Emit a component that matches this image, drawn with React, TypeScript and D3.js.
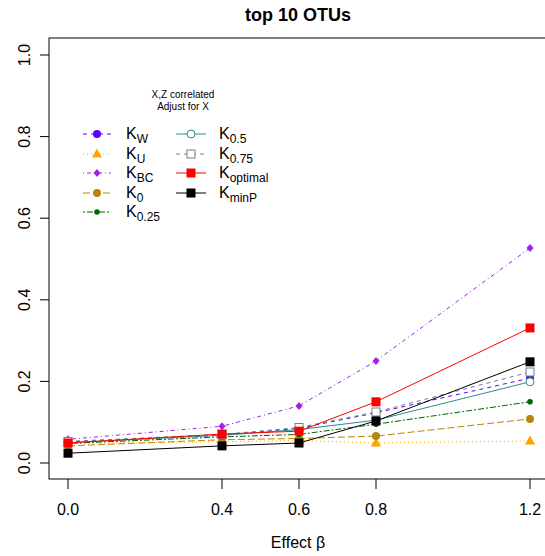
import React from "react";
import * as d3 from "d3";

const xs = [0, 0.4, 0.6, 0.8, 1.2];
const xTicks = [0, 0.4, 0.6, 0.8, 1.2];
const yTicks = [0, 0.2, 0.4, 0.6, 0.8, 1.0];

const kW = [0.052, 0.068, 0.085, 0.123, 0.208];
const kU = [0.048, 0.052, 0.055, 0.049, 0.054];
const kBC = [0.058, 0.090, 0.140, 0.250, 0.527];
const k0 = [0.042, 0.057, 0.060, 0.066, 0.108];
const k025 = [0.048, 0.064, 0.070, 0.095, 0.150];
const k05 = [0.050, 0.068, 0.082, 0.105, 0.199];
const k075 = [0.053, 0.070, 0.087, 0.125, 0.223];
const kOpt = [0.049, 0.071, 0.078, 0.150, 0.331];
const kMinP = [0.024, 0.042, 0.049, 0.103, 0.248];

type Series = { base: string; sub: string; values: number[]; color: string; dash: string; pch: string };

const series: Series[] = [
  { base: "K", sub: "W", values: kW, color: "#5B00FF", dash: "4,4", pch: "circle" },
  { base: "K", sub: "U", values: kU, color: "#FFA500", dash: "1,3", pch: "triangle" },
  { base: "K", sub: "BC", values: kBC, color: "#A020F0", dash: "1,3,4,3", pch: "diamond" },
  { base: "K", sub: "0", values: k0, color: "#B8860B", dash: "7,3", pch: "circle" },
  { base: "K", sub: "0.25", values: k025, color: "#006400", dash: "2,2,6,2", pch: "dot" },
  { base: "K", sub: "0.5", values: k05, color: "#2E8B8B", dash: "", pch: "opencircle" },
  { base: "K", sub: "0.75", values: k075, color: "#708090", dash: "4,4", pch: "opensquare" },
  { base: "K", sub: "optimal", values: kOpt, color: "#FF0000", dash: "", pch: "square" },
  { base: "K", sub: "minP", values: kMinP, color: "#000000", dash: "", pch: "square" },
];

const W = 545;
const H = 556;
const box = { left: 49, top: 38, right: 547, bottom: 479 };
const x = d3.scaleLinear().domain([0, 1.2]).range([68, 530]);
const y = d3.scaleLinear().domain([0, 1]).range([463, 55]);
const font = "'Liberation Sans', Arial, Helvetica, sans-serif";

function Marker({ pch, color, cx, cy }: { pch: string; color: string; cx: number; cy: number }) {
  switch (pch) {
    case "circle":
      return <circle cx={cx} cy={cy} r={4} fill={color} />;
    case "dot":
      return <circle cx={cx} cy={cy} r={2.8} fill={color} />;
    case "opencircle":
      return <circle cx={cx} cy={cy} r={4} fill="white" stroke={color} strokeWidth={1} />;
    case "opensquare":
      return <rect x={cx - 4} y={cy - 4} width={8} height={8} fill="white" stroke={color} strokeWidth={1} />;
    case "square":
      return <rect x={cx - 4.5} y={cy - 4.5} width={9} height={9} fill={color} />;
    case "triangle":
      return <path d={`M${cx},${cy - 5.5}L${cx + 5.2},${cy + 3.5}L${cx - 5.2},${cy + 3.5}Z`} fill={color} />;
    case "diamond":
      return <path d={`M${cx},${cy - 4}L${cx + 3.5},${cy}L${cx},${cy + 4}L${cx - 3.5},${cy}Z`} fill={color} />;
    default:
      return null;
  }
}

export default function App() {
  const line = d3
    .line<number>()
    .x((_, i) => x(xs[i]))
    .y((d) => y(d));

  const legendRows = [134, 154, 173, 193, 212];
  const legendCols = [
    { lineX0: 83, lineX1: 111, mx: 97, tx: 126 },
    { lineX0: 176, lineX1: 206, mx: 191, tx: 219 },
  ];

  return (
    <svg
      width={W}
      height={H}
      style={{ position: "absolute", left: 0, top: 0, background: "white" }}
      fontFamily={font}
    >
      <rect x={0} y={0} width={W} height={H} fill="white" />
      <text x={298} y={21} textAnchor="middle" fontWeight="bold" fontSize={18}>
        top 10 OTUs
      </text>

      {series.map((s, i) => (
        <g key={i}>
          <path
            d={line(s.values) || ""}
            fill="none"
            stroke={s.color}
            strokeWidth={1}
            strokeDasharray={s.dash || undefined}
          />
          {s.values.map((v, j) => (
            <Marker key={j} pch={s.pch} color={s.color} cx={x(xs[j])} cy={y(v)} />
          ))}
        </g>
      ))}

      <rect
        x={box.left}
        y={box.top}
        width={box.right - box.left}
        height={box.bottom - box.top}
        fill="none"
        stroke="black"
        strokeWidth={1}
      />

      {/* y axis */}
      {yTicks.map((t) => (
        <g key={t}>
          <line x1={40} x2={box.left} y1={y(t)} y2={y(t)} stroke="black" />
          <text
            transform={`translate(30, ${y(t)}) rotate(-90)`}
            textAnchor="middle"
            fontSize={16}
          >
            {t.toFixed(1)}
          </text>
        </g>
      ))}

      {/* x axis */}
      {xTicks.map((t) => (
        <g key={t}>
          <line x1={x(t)} x2={x(t)} y1={box.bottom} y2={489} stroke="black" />
          <text x={x(t)} y={515} textAnchor="middle" fontSize={16}>
            {t.toFixed(1)}
          </text>
        </g>
      ))}
      <text x={298} y={548} textAnchor="middle" fontSize={16}>
        Effect β
      </text>

      {/* legend */}
      <text x={183} y={98} textAnchor="middle" fontSize={10}>
        X,Z correlated
      </text>
      <text x={183} y={110} textAnchor="middle" fontSize={10}>
        Adjust for X
      </text>
      {series.map((s, i) => {
        const col = i < 5 ? legendCols[0] : legendCols[1];
        const ry = legendRows[i < 5 ? i : i - 5];
        return (
          <g key={`lg${i}`}>
            <line
              x1={col.lineX0}
              x2={col.lineX1}
              y1={ry}
              y2={ry}
              stroke={s.color}
              strokeWidth={1}
              strokeDasharray={s.dash || undefined}
            />
            <Marker pch={s.pch} color={s.color} cx={col.mx} cy={ry} />
            <text x={col.tx} y={ry + 5} fontSize={16}>
              {s.base}
              <tspan fontSize={12} dy={4}>
                {s.sub}
              </tspan>
            </text>
          </g>
        );
      })}
    </svg>
  );
}
